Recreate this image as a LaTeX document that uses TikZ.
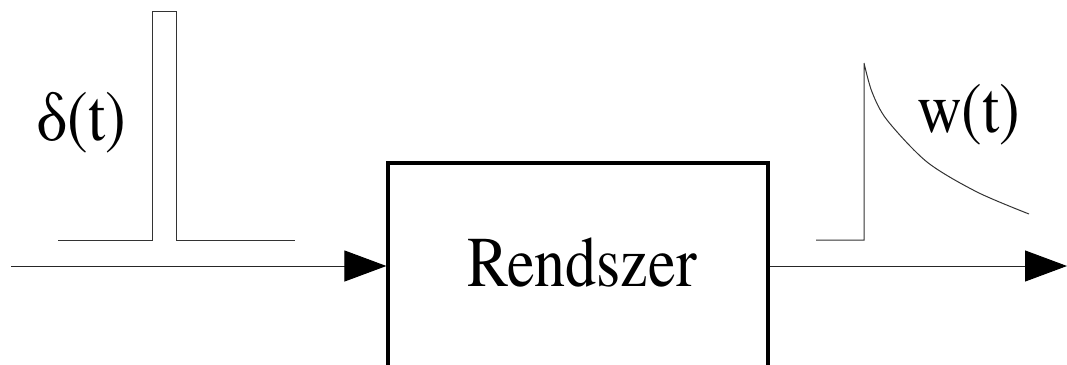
\documentclass[tikz,border=0pt]{standalone}
\usepackage{fontspec}
\usepackage{graphicx}
\newfontfamily\timesfont{texgyretermes-regular.otf}
\newcommand{\tall}[1]{\scalebox{1}[1.15]{#1}}
\usetikzlibrary{arrows.meta}
\begin{document}
\begin{tikzpicture}[x=1pt,y=-1pt,
  signal/.style={draw=black!80,line width=1pt},
  flow/.style={draw=black!85,line width=1pt,-{Triangle[length=42pt,width=31pt,fill=black,color=black]}},
  sysbox/.style={draw=black,line width=3.2pt,minimum width=380pt,minimum height=240pt,inner sep=0pt},
  big/.style={inner sep=0pt,font=\timesfont\fontsize{62}{70}\selectfont}]
  \useasboundingbox (0,0) rectangle (1067,364);
  \clip (0,0) rectangle (1067,364);
  % system block (its bottom edge runs past the lower border)
  \node[sysbox] (sys) at (578,283) {};
  \node[big,anchor=base] (lbl) at (582,286) {\tall{Rendszer}};
  % input and output signal lines
  \coordinate (in) at (11,266);
  \coordinate (out) at (1067,266);
  \draw[flow] (in) -- (in -| sys.west);
  \draw[flow] (out -| sys.east) -- (out);
  % unit impulse sketch
  \draw[signal] (58,240) -- (152,240) -- (152,11) -- (176,11) -- (176,240) -- (295,240);
  \node[big,anchor=base west] (delta) at (36,140) {\tall{δ(t)}};
  % impulse response sketch
  \draw[signal] (816,240) -- (864,240) -- (864,63)
    plot[smooth] coordinates {(864,63) (872,92) (887,120) (927,162) (977,192) (1029,214)};
  \node[big,anchor=base west] (w) at (917,132) {\tall{w(t)}};
\end{tikzpicture}
\end{document}
